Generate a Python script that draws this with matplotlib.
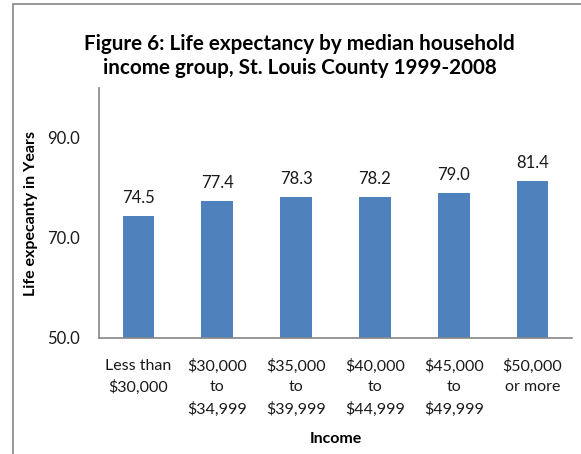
import matplotlib
matplotlib.use("Agg")
import matplotlib.pyplot as plt
from matplotlib.patches import Rectangle

# data
groups = ["Less than\n$30,000", "$30,000\nto\n$34,999", "$35,000\nto\n$39,999",
          "$40,000\nto\n$44,999", "$45,000\nto\n$49,999", "$50,000\nor more"]
life_exp = [74.5, 77.4, 78.3, 78.2, 79.0, 81.4]
yticks = [50.0, 70.0, 90.0]

plt.rcParams['font.family'] = ['Lato', 'DejaVu Sans']

fig = plt.figure(figsize=(5.81, 4.54), dpi=100)
# outer chart frame (right/bottom edges are cropped in the original)
fig.patches.append(Rectangle((13 / 581, -0.1), 1.2, 1.1 - 4 / 454,
                             transform=fig.transFigure, fill=False,
                             edgecolor="#868686", linewidth=1.2))

ax = fig.add_axes([99 / 581, 1 - 338 / 454, 473 / 581, 250 / 454])
pos = range(len(groups))
ax.bar(pos, [v - 50 for v in life_exp], bottom=50, width=0.4, color="#4F81BD")
for p, v in zip(pos, life_exp):
    ax.annotate("%.1f" % v, (p, v), xytext=(0, 7), textcoords="offset points",
                ha="center", va="bottom", fontsize=12, color="#1a1a1a")

ax.set_xlim(-0.5, len(groups) - 0.5)
ax.set_ylim(50, 100)
ax.set_yticks(yticks)
ax.set_yticklabels(["%.1f" % t for t in yticks], fontsize=12, color="#1a1a1a")
ax.set_xticks(list(pos))
ax.set_xticklabels(groups, fontsize=11.5, color="#1a1a1a", linespacing=1.58,
                   va="top")
ax.tick_params(axis="both", length=0)
ax.tick_params(axis="x", pad=15)
ax.tick_params(axis="y", pad=14)
for s in ["top", "right"]:
    ax.spines[s].set_visible(False)
for s in ["left", "bottom"]:
    ax.spines[s].set_color("#868686")
    ax.spines[s].set_linewidth(1.2)

ax.set_ylabel("Life expecanty in Years", fontsize=11.5, fontweight="bold",
              labelpad=6)
ax.set_xlabel("Income", fontsize=11.5, fontweight="bold", labelpad=11)

fig.text(0.516, 1 - 56 / 454, "Figure 6: Life expectancy by median household\n"
         "income group, St. Louis County 1999-2008", ha="center", va="center",
         fontsize=14.9, fontweight="bold", linespacing=1.28)

fig.savefig("out.png", dpi=100)
